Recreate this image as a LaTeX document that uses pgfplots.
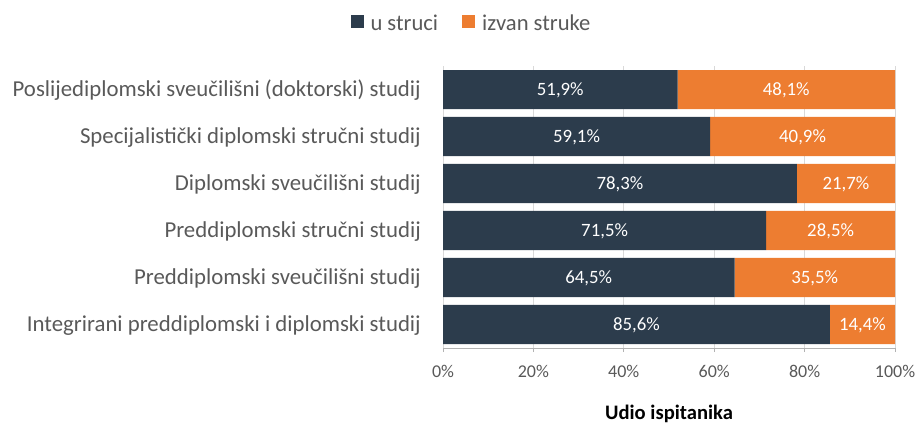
\documentclass[border=0pt]{standalone}
\usepackage{pgfplots}
\pgfplotsset{compat=1.18}
\usepackage{fontspec}
\setmainfont{Carlito}
\definecolor{navy}{HTML}{2C3C4C}
\definecolor{orng}{HTML}{ED7D31}
\definecolor{txt}{HTML}{595959}
\definecolor{grd}{HTML}{D9D9D9}
\begin{document}
\begin{tikzpicture}
\path[use as bounding box] (0,0) rectangle (916bp,424bp);
\begin{axis}[
  at={(443bp,76bp)}, anchor=south west,
  scale only axis, width=452bp, height=282bp,
  xbar stacked, bar width=39bp,
  xmin=0, xmax=100, ymin=-0.5, ymax=5.5,
  xtick={0,20,40,60,80,100},
  xticklabels={0\%,20\%,40\%,60\%,80\%,100\%},
  ytick={0,1,2,3,4,5},
  yticklabels={Integrirani preddiplomski i diplomski studij, Preddiplomski sveučilišni studij, Preddiplomski stručni studij, Diplomski sveučilišni studij, Specijalistički diplomski stručni studij, Poslijediplomski sveučilišni (doktorski) studij},
  axis x line*=bottom, axis y line*=left,
  x axis line style={draw=black!30, line width=0.8bp},
  y axis line style={draw=none},
  tick align=outside,
  xtick style={draw=black!30, line width=0.8bp},
  major tick length=4bp,
  ytick style={draw=none},
  xmajorgrids, grid style={grd, line width=0.8bp},
  xticklabel style={font=\fontsize{18bp}{21bp}\selectfont, text=txt, anchor=base, yshift=-25bp},
  yticklabel style={font=\fontsize{22.8bp}{26bp}\selectfont, text=txt, anchor=base east, inner sep=0pt, xshift=-18bp, yshift=-7bp},
  xlabel={Udio ispitanika},
  xlabel style={font=\bfseries\fontsize{20.6bp}{24bp}\selectfont, text=black, at={(axis description cs:0.5,0)}, anchor=base, yshift=-71bp},
  legend columns=2,
  legend style={at={(axis description cs:0.063,1.1525)}, anchor=center, draw=none, fill=none,
    font=\fontsize{22.6bp}{26bp}\selectfont, text=txt, column sep=5bp,
    /tikz/every even column/.append style={column sep=22bp}},
]
\addplot[fill=navy, draw=none, legend image code/.code={\fill[navy] (0bp,-5.5bp) rectangle (13bp,7.5bp);}]
  coordinates {(85.6,0) (64.5,1) (71.5,2) (78.3,3) (59.1,4) (51.9,5)};
\addlegendentry{u struci}
\addplot[fill=orng, draw=none, legend image code/.code={\fill[orng] (0bp,-5.5bp) rectangle (13bp,7.5bp);}]
  coordinates {(14.4,0) (35.5,1) (28.5,2) (21.7,3) (40.9,4) (48.1,5)};
\addlegendentry{izvan struke}
\end{axis}
\begin{axis}[
  at={(443bp,76bp)}, anchor=south west,
  scale only axis, width=452bp, height=282bp,
  xmin=0, xmax=100, ymin=-0.5, ymax=5.5, hide axis,
]
\addplot[draw=none, mark=none, nodes near coords, point meta=explicit symbolic,
  nodes near coords style={text=white, anchor=base, yshift=-6.5bp, font=\fontsize{18.8bp}{22bp}\selectfont}]
  table[meta=label] {
x y label
42.8 0 85,6\%
92.8 0 14,4\%
32.25 1 64,5\%
82.25 1 35,5\%
35.75 2 71,5\%
85.75 2 28,5\%
39.15 3 78,3\%
89.15 3 21,7\%
29.55 4 59,1\%
79.55 4 40,9\%
25.95 5 51,9\%
75.95 5 48,1\%
};
\end{axis}
\end{tikzpicture}
\end{document}
